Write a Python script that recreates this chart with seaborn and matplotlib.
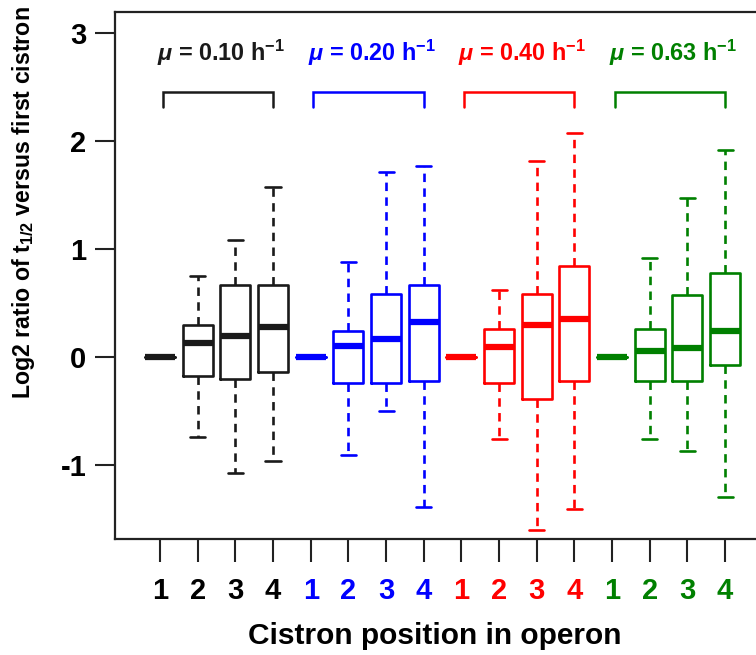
import numpy as np
import pandas as pd
import matplotlib
matplotlib.use("Agg")
import matplotlib.pyplot as plt
import seaborn as sns

# ---- data (five-number summaries per box) ----
groups = ["0.10", "0.20", "0.40", "0.63"]
group_colors = ["#1a1a1a", "#0000ff", "#ff0000", "#008000"]
cistrons = ["1", "2", "3", "4"]

whisker_low = [0.0, -0.74, -1.07, -0.96,
               0.0, -0.91, -0.50, -1.39,
               0.0, -0.76, -1.60, -1.41,
               0.0, -0.76, -0.87, -1.30]
q1 = [0.0, -0.18, -0.20, -0.14,
      0.0, -0.24, -0.24, -0.22,
      0.0, -0.24, -0.39, -0.22,
      0.0, -0.22, -0.22, -0.07]
median = [0.0, 0.13, 0.19, 0.28,
          0.0, 0.10, 0.17, 0.32,
          0.0, 0.09, 0.30, 0.35,
          0.0, 0.06, 0.08, 0.24]
q3 = [0.0, 0.30, 0.67, 0.67,
      0.0, 0.24, 0.58, 0.67,
      0.0, 0.26, 0.58, 0.84,
      0.0, 0.26, 0.57, 0.78]
whisker_high = [0.0, 0.75, 1.08, 1.57,
                0.0, 0.88, 1.71, 1.77,
                0.0, 0.62, 1.81, 2.07,
                0.0, 0.92, 1.47, 1.92]

rows = []
for i in range(len(median)):
    g = groups[i // 4]
    for v in (whisker_low[i], q1[i], median[i], q3[i], whisker_high[i]):
        rows.append({"pos": i, "group": g, "value": v})
df = pd.DataFrame(rows)

sns.set_theme(style="ticks")
plt.rcParams["font.family"] = ["Liberation Sans", "DejaVu Sans"]
plt.rcParams["font.weight"] = "bold"
plt.rcParams["text.color"] = "black"
plt.rcParams["axes.labelcolor"] = "black"
plt.rcParams["xtick.labelcolor"] = "black"
plt.rcParams["ytick.labelcolor"] = "black"
plt.rcParams["mathtext.fontset"] = "custom"
plt.rcParams["mathtext.rm"] = "Liberation Sans:bold"
plt.rcParams["mathtext.bf"] = "Liberation Sans:bold"
plt.rcParams["mathtext.it"] = "Liberation Sans:italic:bold"
plt.rcParams["mathtext.sf"] = "Liberation Sans:bold"

fig = plt.figure(figsize=(7.56, 6.55), dpi=100)
ax = fig.add_axes([115 / 756, 116 / 655, 647 / 756, 527 / 655])

sns.boxplot(data=df, x="pos", y="value", hue="group", palette=group_colors,
            hue_order=groups, fill=False, dodge=False, whis=np.inf, width=0.8,
            linewidth=1.9, legend=False, ax=ax,
            medianprops={"linewidth": 4.5, "solid_capstyle": "butt"},
            whiskerprops={"linestyle": (0, (3.2, 2.4))})

ax.set_xlim(-1.195, 15.98)
ax.set_ylim(-1.685, 3.194)

# brackets and group labels
for gi, (g, c) in enumerate(zip(groups, group_colors)):
    x0 = gi * 4 + 0.07
    x1 = gi * 4 + 3
    ax.plot([x0, x0, x1, x1], [2.31, 2.45, 2.45, 2.31], color=c, lw=1.8,
            solid_joinstyle="miter", clip_on=False)
    ax.text((x0 + x1) / 2 + 0.08, 2.74,
            r"$\mathit{\mu}$ = " + g + r" h$^{\mathrm{-1}}$",
            color=c, ha="center", va="baseline", fontsize=16.8,
            fontweight="bold")

# axes styling
for s in ["top", "left", "bottom"]:
    ax.spines[s].set_linewidth(1.6)
    ax.spines[s].set_color("#222222")
ax.spines["right"].set_visible(False)

ax.set_yticks([-1, 0, 1, 2, 3])
ax.set_yticklabels(["-1", "0", "1", "2", "3"])
ax.set_xticks(range(16))
ax.set_xticklabels(cistrons * 4)
for i, lab in enumerate(ax.get_xticklabels()):
    lab.set_color(group_colors[i // 4] if i >= 4 else "black")
    lab.set_fontweight("bold")
for lab in ax.get_yticklabels():
    lab.set_fontweight("bold")
    lab.set_color("black")

ax.tick_params(axis="x", length=16.5, width=1.5, pad=11, labelsize=21,
               direction="out", color="#222222")
ax.tick_params(axis="y", length=14.5, width=1.5, pad=6, labelsize=21,
               direction="out", color="#222222")

ax.set_xlabel("Cistron position in operon", fontsize=21.5, fontweight="bold",
              color="black")
ax.xaxis.set_label_coords(0.4946, -0.1575)
ax.set_ylabel(r"Log2 ratio of t$_{\mathrm{1/2}}$ versus first cistron",
              fontsize=16.7, fontweight="bold", color="black")
ax.yaxis.set_label_coords(-0.1206, 0.6376)

fig.savefig("out.png", dpi=100)
